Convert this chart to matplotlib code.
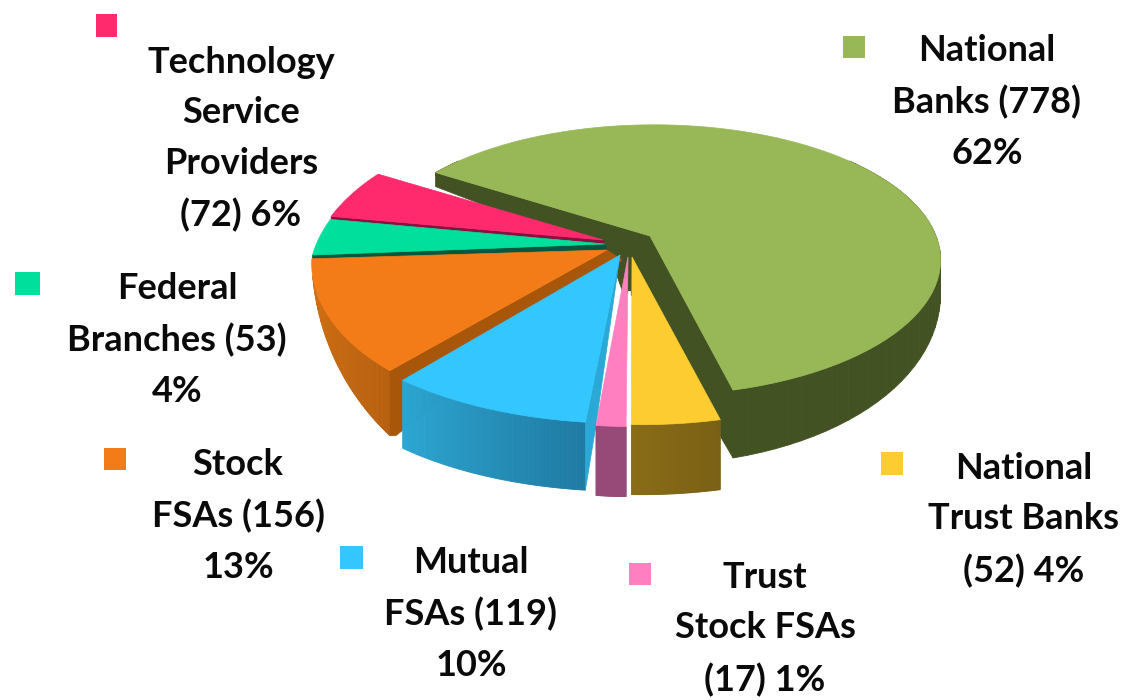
import numpy as np
import matplotlib
matplotlib.use('Agg')
import matplotlib.pyplot as plt
from matplotlib.patches import Polygon, Rectangle
from matplotlib.colors import to_rgb

# data, clockwise from the back left edge of the big slice
names = ['National Banks', 'National Trust Banks', 'Trust Stock FSAs', 'Mutual FSAs',
         'Stock FSAs', 'Federal Branches', 'Technology Service Providers']
counts = [778, 52, 17, 119, 156, 53, 72]
labels = ['National\nBanks (778)\n62%',
          'National\nTrust Banks\n(52) 4%',
          'Trust\nStock FSAs\n(17) 1%',
          'Mutual\nFSAs (119)\n10%',
          'Stock\nFSAs (156)\n13%',
          'Federal\nBranches (53)\n4%',
          'Technology\nService\nProviders\n(72) 6%']

START = 148.0
top_col = ['#98B857', '#FDCC30', '#FF7FC0', '#33C6FF', '#F47C18', '#00DF9C', '#FF2A6E']
wall_a = ['#435222', '#7A6014', '#974A78', '#1F7AA2', '#B8600F', '#04A070', '#C01850']
wall_b = ['#435222', '#8A6C16', '#974A78', '#2BA6D2', '#D87416', '#04A070', '#C01850']
cut_col = ['#435222', '#7A6014', '#974A78', '#2AA8D6', '#A8560A', '#05573F', '#8A1040']

# per slice: centre x, centre y, R, Ry, k, wall a, wall b
geom = [(654, 236, 282, 131, 0.178, 26, 43),
        (641, 258, 309, 150, 0.1, 70, 0),
        (636, 260, 317, 150, 0.1, 70, 0),
        (625, 260, 314, 147, 0.1, 68, 0),
        (576, 248, 263, 150, 0.1, -22, 115),
        (544, 245, 228, 138, 0.246, 0, 0),
        (568, 244, 253, 149, 0.246, 0, 0)]
# where the visible apex of the slice sits
tips = [(650, 236), (632, 257), (628, 257), (620, 255), (607, 250), (605, 244), (603, 240)]

boxes = [(843, 36, 22, 22), (881, 452, 22, 23), (629, 563, 22, 22), (340, 546, 23, 23),
         (104, 448, 22, 22), (15, 272, 25, 23), (96, 14, 21, 23)]
text_xy = [(987, 102), (1024, 520), (765, 629), (471, 614), (238, 516), (177, 340), (241, 139)]


def rim(g, deg):
    t = np.radians(deg)
    x, y = np.cos(t), np.sin(t)
    w = 1 + g[4] * y
    return g[0] + g[2] * x / w, g[1] - g[3] * y / w, y


def wall_h(g, y):
    return np.clip(g[5] + g[6] * (-y), 0, 70)


fig = plt.figure(figsize=(11.26, 7), dpi=100)
ax = fig.add_axes([0, 0, 1, 1])
ax.set_xlim(0, 1126)
ax.set_ylim(700, 0)
ax.axis('off')

sweeps = 360.0 * np.array(counts) / sum(counts)
edges = START - np.concatenate([[0], np.cumsum(sweeps)])

for i in range(len(counts)):
    g = geom[i]
    th = np.linspace(edges[i], edges[i + 1], 90)
    px, py, yy = rim(g, th)
    hh = wall_h(g, yy)
    tip = tips[i]
    a, b = np.array(to_rgb(wall_a[i])), np.array(to_rgb(wall_b[i]))
    z = 2 if i == 0 else 10 - i

    # side wall in thin strips so it can shade along the arc
    for j in range(len(th) - 1):
        if hh[j] <= 0 and hh[j + 1] <= 0:
            continue
        c = a + (b - a) * j / (len(th) - 2)
        ax.add_patch(Polygon([(px[j], py[j]), (px[j + 1], py[j + 1]),
                              (px[j + 1], py[j + 1] + hh[j + 1]), (px[j], py[j] + hh[j])],
                             fc=c, ec=c, lw=0.6, zorder=z))

    # cut faces
    if i == 0:
        cut = [(px[0], py[0]), (px[0], py[0] + 14), (590, 246), (612, 262), (622, 290), (640, 300),
               (px[-1], py[-1] + hh[-1]), (px[-1], py[-1]), tip]
    elif i == 3:
        cut = [tip, (px[0], py[0]), (px[0], py[0] + hh[0]), (596, 425)]
    elif i == 4:
        cut = [tip, (px[0], py[0]), (px[0], py[0] + hh[0]), (px[0] + 6, py[0] + hh[0]),
               (tip[0] + 15, tip[1] + 10)]
    elif i == 5:
        cut = [(px[0], py[0]), (px[0], py[0] + 8), tips[4], tip]
    elif i == 6:
        cut = [(px[0], py[0]), (px[0], py[0] + 4), tips[5], tip]
    else:
        cut = None
    if cut is not None:
        ax.add_patch(Polygon(cut, fc=cut_col[i], ec=cut_col[i], lw=0.5, zorder=z))

    # top face
    ax.add_patch(Polygon([tip] + list(zip(px, py)), fc=top_col[i], ec=top_col[i], lw=0.5, zorder=z))

# thin gap between the pink and yellow slices
ax.plot([628.8, 628.8], [292, 497], color='white', lw=2, zorder=20)

for i in range(len(counts)):
    ax.add_patch(Rectangle(boxes[i][:2], boxes[i][2], boxes[i][3], fc=top_col[i], ec='none', zorder=30))
    ax.text(text_xy[i][0], text_xy[i][1], labels[i], ha='center', va='center', multialignment='center',
            family='Lato', weight='bold', fontsize=26, linespacing=1.65, color='#0a0a0a', zorder=30)

fig.savefig('out.png', dpi=100)
